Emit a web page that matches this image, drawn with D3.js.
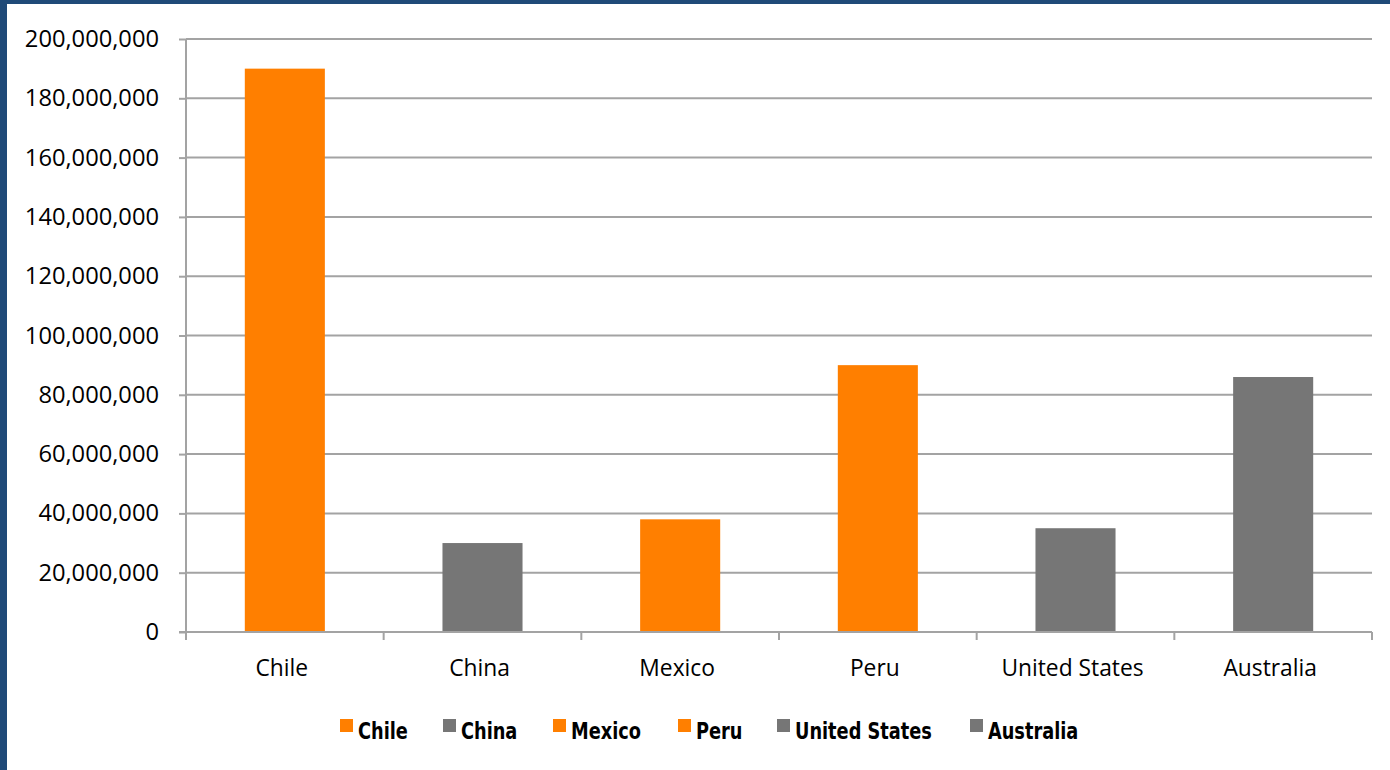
<!DOCTYPE html>
<html>
<head>
<meta charset="utf-8">
<script src="https://cdn.jsdelivr.net/npm/d3@7"></script>
<style>
  html, body { margin: 0; padding: 0; background: #fff; }
  svg { display: block; }
</style>
</head>
<body>
<svg id="chart" width="1390" height="770"></svg>
<script>
// Production by country
const categories = ["Chile", "China", "Mexico", "Peru", "United States", "Australia"];
const values = [190000000, 30000000, 38000000, 90000000, 35000000, 86000000];
const barColors = ["#FF7F00", "#767676", "#FF7F00", "#FF7F00", "#767676", "#767676"];
const yTicks = [0, 20000000, 40000000, 60000000, 80000000, 100000000, 120000000, 140000000, 160000000, 180000000, 200000000];

const W = 1390, H = 770;
const margin = { left: 186, right: 18, top: 39, bottom: 138 };
const svg = d3.select("#chart");

// frame
svg.append("rect").attr("x", 0).attr("y", 0).attr("width", W).attr("height", 4).attr("fill", "#1F4A78");
svg.append("rect").attr("x", 0).attr("y", 0).attr("width", 7).attr("height", H).attr("fill", "#1F4A78");

const x = d3.scaleBand().domain(categories).range([margin.left, W - margin.right]).paddingInner(0).paddingOuter(0);
const y = d3.scaleLinear().domain([0, 200000000]).range([H - margin.bottom, margin.top]);

const fmt = d3.format(",");
const gridColor = "#A3A3A3";

// horizontal gridlines
svg.append("g")
  .selectAll("line")
  .data(yTicks.filter(d => d > 0))
  .join("line")
  .attr("x1", margin.left).attr("x2", W - margin.right)
  .attr("y1", d => y(d)).attr("y2", d => y(d))
  .attr("stroke", gridColor).attr("stroke-width", 2);

// bars
const barW = x.bandwidth() * 0.405;
svg.append("g")
  .selectAll("rect")
  .data(categories)
  .join("rect")
  .attr("x", (d) => x(d) + (x.bandwidth() - barW) / 2)
  .attr("width", barW)
  .attr("y", (d, i) => y(values[i]))
  .attr("height", (d, i) => y(0) - y(values[i]))
  .attr("fill", (d, i) => barColors[i]);

// y axis
const yAxis = d3.axisLeft(y).tickValues(yTicks).tickFormat(fmt).tickSize(7).tickPadding(20);
const gy = svg.append("g").attr("transform", `translate(${margin.left},0)`).call(yAxis);
gy.select(".domain").attr("stroke", gridColor).attr("stroke-width", 2).attr("d", `M0,${y(0)}V${y(200000000)}`);
gy.selectAll(".tick line").attr("stroke", gridColor).attr("stroke-width", 2);
gy.selectAll(".tick text")
  .attr("fill", "#000")
  .style("font-family", "'Open Sans', sans-serif")
  .style("font-size", "23.7px");

// x axis
const gx = svg.append("g").attr("transform", `translate(0,${y(0)})`);
gx.append("line")
  .attr("x1", margin.left - 7).attr("x2", W - margin.right)
  .attr("y1", 0).attr("y2", 0)
  .attr("stroke", gridColor).attr("stroke-width", 2);
const bounds = categories.map(d => x(d)).concat([x(categories[categories.length - 1]) + x.bandwidth()]);
gx.selectAll("line.bnd")
  .data(bounds)
  .join("line")
  .attr("class", "bnd")
  .attr("x1", d => d).attr("x2", d => d)
  .attr("y1", 0).attr("y2", 8)
  .attr("stroke", gridColor).attr("stroke-width", 2);
gx.selectAll("text")
  .data(categories)
  .join("text")
  .attr("x", d => x(d) + x.bandwidth() / 2 - 3)
  .attr("y", 44)
  .attr("text-anchor", "middle")
  .attr("fill", "#000")
  .style("font-family", "'Open Sans', sans-serif")
  .style("font-size", "22.8px")
  .text(d => d);

// legend
const legendX = [340, 443, 553, 678, 777, 970];
const lg = svg.append("g");
const items = lg.selectAll("g")
  .data(categories)
  .join("g")
  .attr("transform", (d, i) => `translate(${legendX[i]},719)`);
items.append("rect")
  .attr("width", 13).attr("height", 13)
  .attr("fill", (d, i) => barColors[i]);
items.append("text")
  .attr("transform", "translate(18,20) scale(0.94,1.1)")
  .attr("fill", "#000")
  .style("font-family", "'DejaVu Sans Condensed', 'DejaVu Sans', sans-serif")
  .style("font-weight", "bold")
  .style("font-stretch", "condensed")
  .style("font-size", "21px")
  .text(d => d);
</script>
</body>
</html>
